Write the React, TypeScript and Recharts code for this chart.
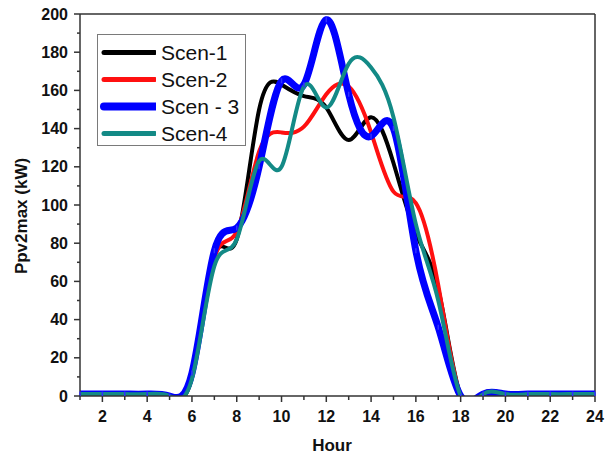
import { LineChart, Line, XAxis, YAxis, ReferenceLine } from "recharts";

const hours = [1, 2, 3, 4, 5, 6, 7, 8, 9, 10, 11, 12, 13, 14, 15, 16, 17, 18, 19, 20, 21, 22, 23, 24];

const scen1 = [1, 1, 1, 1, 0, 10, 74, 82, 150, 163, 157, 151, 134, 146, 122, 85, 56, 0, 1, 1, 1, 1, 1, 1];
const scen2 = [1, 1, 1, 1, 0, 10, 72, 86, 128, 138, 141, 158, 162, 138, 107, 101, 58, 0, 1, 1, 1, 1, 1, 1];
const scen3 = [1, 1, 1, 1, 0, 12, 76, 88, 120, 165, 163, 197, 158, 136, 140, 76, 36, 0, 1, 1, 1, 1, 1, 1];
const scen4 = [1, 1, 1, 1, 0, 9, 68, 82, 123, 120, 162, 151, 174, 172, 146, 90, 50, 0, 1, 1, 1, 1, 1, 1];

const yTicks = [0, 10, 20, 30, 40, 50, 60, 70, 80, 90, 100, 110, 120, 130, 140, 150, 160, 170, 180, 190, 200];

const SERIES = [
  { key: "s1", name: "Scen-1", color: "#000000", width: 4 },
  { key: "s2", name: "Scen-2", color: "#ff1010", width: 4 },
  { key: "s3", name: "Scen - 3", color: "#0000ff", width: 7 },
  { key: "s4", name: "Scen-4", color: "#138a86", width: 4 },
];

const data = hours.map((h, i) => ({
  hour: h,
  s1: scen1[i],
  s2: scen2[i],
  s3: scen3[i],
  s4: scen4[i],
}));

const FONT = "Arial, 'Liberation Sans', sans-serif";
const AXIS = "#333333";

function XTick({ x, y, payload }: { x?: number; y?: number; payload?: { value: number } }) {
  const v = payload?.value ?? 0;
  const major = v % 2 === 0;
  return (
    <g>
      <line x1={x} x2={x} y1={y} y2={(y ?? 0) + (major ? 6 : 4)} stroke={AXIS} strokeWidth={1.5} />
      {major && (
        <text x={x} y={(y ?? 0) + 26} textAnchor="middle" fontFamily={FONT} fontWeight="bold" fontSize={16} fill="#111">
          {v}
        </text>
      )}
    </g>
  );
}

function YTick({ x, y, payload }: { x?: number; y?: number; payload?: { value: number } }) {
  const v = payload?.value ?? 0;
  const major = v % 20 === 0;
  return (
    <g>
      <line x1={(x ?? 0) - (major ? 6 : 3)} x2={x} y1={y} y2={y} stroke={AXIS} strokeWidth={1.5} />
      {major && (
        <text x={(x ?? 0) - 12} y={(y ?? 0) + 5.5} textAnchor="end" fontFamily={FONT} fontWeight="bold" fontSize={16} fill="#111">
          {v}
        </text>
      )}
    </g>
  );
}

// blue series carries small vertical markers at each data point
function TickDot({ cx, cy }: { cx?: number; cy?: number }) {
  if (cx == null || cy == null) return null;
  return <line x1={cx} x2={cx} y1={cy - 2.5} y2={cy + 2.5} stroke="#3030ff" strokeWidth={1.5} />;
}

export default function App() {
  return (
    <div style={{ position: "relative", width: 614, height: 461, background: "#fff" }}>
      <style>{`body{margin:0}`}</style>
      <LineChart width={614} height={461} data={data} margin={{ top: 14, right: 19, left: 0, bottom: 35 }}>
        <XAxis
          type="number"
          dataKey="hour"
          domain={[1, 24]}
          ticks={hours}
          interval={0}
          height={30}
          tickSize={0}
          tickMargin={0}
          tickLine={false}
          axisLine={{ stroke: AXIS, strokeWidth: 1.5 }}
          tick={<XTick />}
        />
        <YAxis
          type="number"
          domain={[0, 200]}
          ticks={yTicks}
          interval={0}
          width={80}
          allowDataOverflow
          tickSize={0}
          tickMargin={0}
          tickLine={false}
          axisLine={{ stroke: AXIS, strokeWidth: 1.5 }}
          tick={<YTick />}
        />
        <ReferenceLine y={200} stroke={AXIS} strokeWidth={1.5} />
        <ReferenceLine x={24} stroke={AXIS} strokeWidth={1.5} />
        {SERIES.map((s) => (
          <Line
            key={s.key}
            type="natural"
            dataKey={s.key}
            name={s.name}
            stroke={s.color}
            strokeWidth={s.width}
            dot={s.key === "s3" ? <TickDot /> : false}
            activeDot={false}
            isAnimationActive={false}
          />
        ))}
      </LineChart>

      <div
        style={{
          position: "absolute",
          left: 22,
          top: 216,
          transform: "translate(-50%, -50%) rotate(-90deg)",
          whiteSpace: "nowrap",
          fontFamily: FONT,
          fontWeight: "bold",
          fontSize: 17,
          color: "#111",
        }}
      >
        Ppv2max (kW)
      </div>
      <div
        style={{
          position: "absolute",
          left: 332,
          top: 446,
          transform: "translate(-50%, -50%)",
          fontFamily: FONT,
          fontWeight: "bold",
          fontSize: 17,
          color: "#111",
        }}
      >
        Hour
      </div>

      <div
        style={{
          position: "absolute",
          left: 97,
          top: 34,
          width: 149,
          height: 112,
          boxSizing: "border-box",
          border: "1px solid #7a7a7a",
          background: "#fff",
          paddingTop: 4,
        }}
      >
        {SERIES.map((s) => (
          <div key={s.key} style={{ display: "flex", alignItems: "center", height: 27 }}>
            <svg width={58} height={27} style={{ display: "block", flex: "none" }}>
              <line x1={6} x2={57} y1={13.5} y2={13.5} stroke={s.color} strokeWidth={s.width + 1} strokeLinecap="round" />
            </svg>
            <span style={{ marginLeft: 5, fontFamily: FONT, fontSize: 21, color: "#111", whiteSpace: "nowrap" }}>{s.name}</span>
          </div>
        ))}
      </div>
    </div>
  );
}
